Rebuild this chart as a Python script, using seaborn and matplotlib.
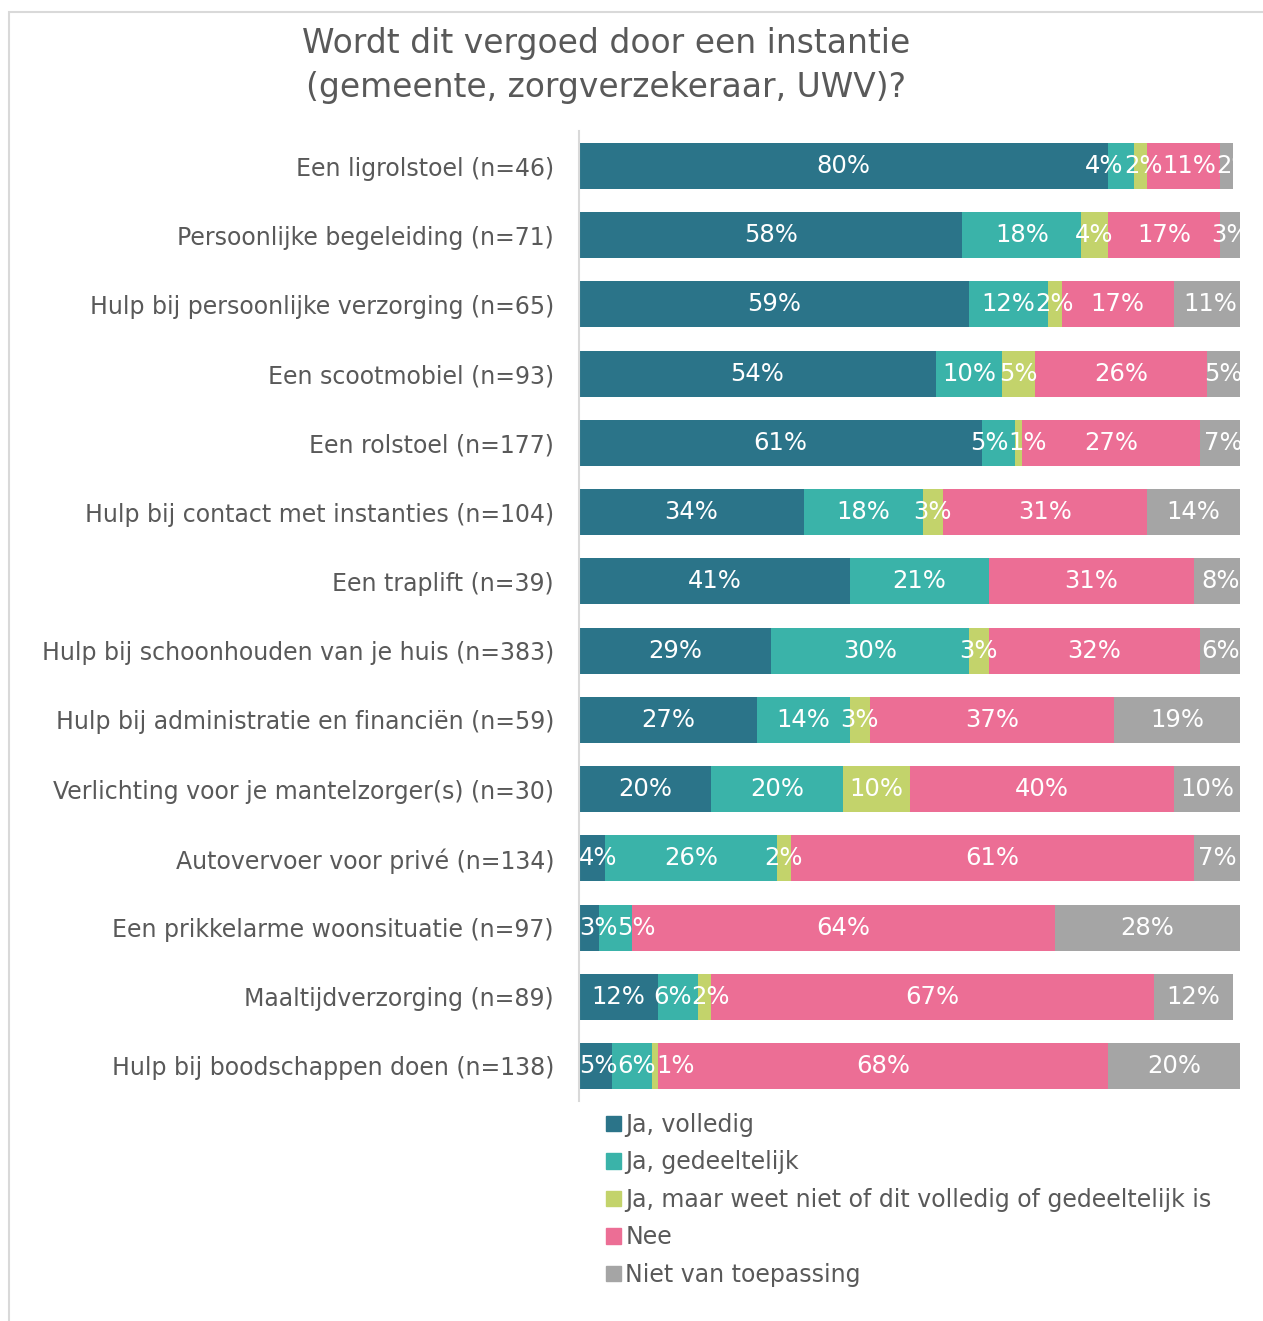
import numpy as np
import pandas as pd
import matplotlib
matplotlib.use("Agg")
import matplotlib.pyplot as plt
from matplotlib.patches import Rectangle
import seaborn as sns

# Survey answers per kind of support (percent of respondents)
categories = [
    "Een ligrolstoel (n=46)",
    "Persoonlijke begeleiding (n=71)",
    "Hulp bij persoonlijke verzorging (n=65)",
    "Een scootmobiel (n=93)",
    "Een rolstoel (n=177)",
    "Hulp bij contact met instanties (n=104)",
    "Een traplift (n=39)",
    "Hulp bij schoonhouden van je huis (n=383)",
    "Hulp bij administratie en financiën (n=59)",
    "Verlichting voor je mantelzorger(s) (n=30)",
    "Autovervoer voor privé (n=134)",
    "Een prikkelarme woonsituatie (n=97)",
    "Maaltijdverzorging (n=89)",
    "Hulp bij boodschappen doen (n=138)",
]
ja_volledig = [80, 58, 59, 54, 61, 34, 41, 29, 27, 20, 4, 3, 12, 5]
ja_gedeeltelijk = [4, 18, 12, 10, 5, 18, 21, 30, 14, 20, 26, 5, 6, 6]
ja_weet_niet = [2, 4, 2, 5, 1, 3, 0, 3, 3, 10, 2, 0, 2, 1]
nee = [11, 17, 17, 26, 27, 31, 31, 32, 37, 40, 61, 64, 67, 68]
niet_van_toepassing = [2, 3, 11, 5, 7, 14, 8, 6, 19, 10, 7, 28, 12, 20]

series_names = [
    "Ja, volledig",
    "Ja, gedeeltelijk",
    "Ja, maar weet niet of dit volledig of gedeeltelijk is",
    "Nee",
    "Niet van toepassing",
]
series_values = [ja_volledig, ja_gedeeltelijk, ja_weet_niet, nee, niet_van_toepassing]
colors = ["#2B7489", "#3AB3A9", "#C3D36B", "#EC6E95", "#A5A5A5"]

TEXT = "#595959"

sns.set_theme(style="white")
plt.rcParams["font.family"] = ["DejaVu Sans"]

fig = plt.figure(figsize=(12.63, 13.21), dpi=100)
ax = fig.add_axes([579 / 1263, 1 - 1100.6 / 1321, 661 / 1263, 969.2 / 1321])

df = pd.DataFrame({name: vals for name, vals in zip(series_names, series_values)})
df["categorie"] = categories
cum = df[series_names].cumsum(axis=1)

# Stacked bars: draw cumulative totals from the outermost segment inwards
for name, color in reversed(list(zip(series_names, colors))):
    sns.barplot(
        x=cum[name], y=df["categorie"], orient="h", color=color,
        width=0.665, ax=ax, saturation=1, linewidth=0,
    )

ax.set_xlim(0, 100)
ax.set_ylim(len(categories) - 0.5, -0.5)

# Percentage labels, centred in each segment, clipped to the plot area
row_labels = []
for i in range(len(categories)):
    start = 0
    labels = []
    for name in series_names:
        v = df.loc[i, name]
        if v > 0:
            t = ax.text(start + v / 2, i, f"{v}%", ha="center", va="center",
                        color="white", fontsize=17.5, clip_on=True)
            labels.append(t)
        start += v
    row_labels.append(labels)

# Spread neighbouring labels apart so small segments stay readable,
# keeping the first label inside the left edge of the plot
renderer = fig.canvas.get_renderer()
ax_w_px = ax.get_window_extent(renderer).width
for labels in row_labels:
    xs = [t.get_position()[0] for t in labels]
    ws = [t.get_window_extent(renderer).width * 100 / ax_w_px for t in labels]
    for _ in range(500):
        moved = False
        if xs[0] - ws[0] / 2 < -1e-3:
            xs[0] = ws[0] / 2
            moved = True
        for k in range(len(xs) - 1):
            overlap = (xs[k] + ws[k] / 2) - (xs[k + 1] - ws[k + 1] / 2)
            if overlap > 1e-3:
                if k == 0 and xs[0] - ws[0] / 2 <= 1e-3:
                    xs[k + 1] += overlap
                else:
                    xs[k] -= overlap / 2
                    xs[k + 1] += overlap / 2
                moved = True
        if not moved:
            break
    for t, x in zip(labels, xs):
        t.set_x(x)

ax.set_xlabel("")
ax.set_ylabel("")
ax.set_xticks([])
ax.tick_params(axis="y", length=0, pad=18, labelsize=17, labelcolor=TEXT)
for side in ["top", "right", "bottom"]:
    ax.spines[side].set_visible(False)
ax.spines["left"].set_color("#D9D9D9")
ax.spines["left"].set_linewidth(1.5)

# Title
fig.text(606 / 1263, 1 - 43 / 1321, "Wordt dit vergoed door een instantie",
         ha="center", va="center", fontsize=23.7, color=TEXT)
fig.text(606 / 1263, 1 - 88 / 1321, "(gemeente, zorgverzekeraar, UWV)?",
         ha="center", va="center", fontsize=23.7, color=TEXT)

# Legend below the bars
handles = [Rectangle((0, 0), 1, 1, color=c) for c in colors]
fig.legend(handles, series_names, loc="upper left",
           bbox_to_anchor=(606 / 1263, 1 - 1113 / 1321),
           frameon=False, fontsize=17, labelcolor=TEXT,
           handlelength=0.62, handleheight=0.62, handletextpad=0.2,
           labelspacing=0.57, borderpad=0, borderaxespad=0)

# Chart border
fig.add_artist(Rectangle((9 / 1263, -0.01), 1.1, 1 - 12 / 1321 + 0.01,
                         transform=fig.transFigure, fill=False,
                         edgecolor="#D9D9D9", linewidth=1.5))

fig.savefig("out.png", dpi=100)
